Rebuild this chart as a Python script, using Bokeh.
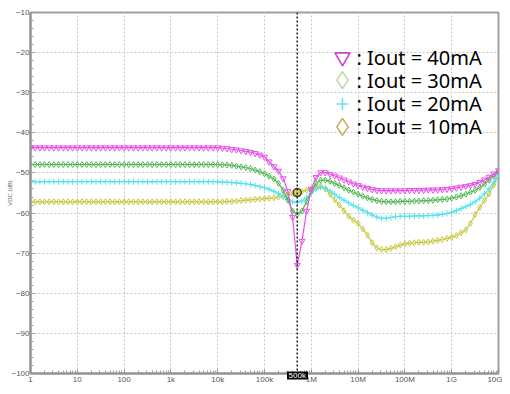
from bokeh.plotting import figure
from bokeh.models import Range1d, FixedTicker, Span, LogAxis
from bokeh.core.properties import value
from bokeh.embed import file_html
from bokeh.resources import INLINE

# ---- data ----
freq = [10 ** (i / 10) for i in range(101)]  # 1 Hz .. 10 GHz, 10 pts/decade

iout_40 = [
    -43.7, -43.7, -43.7, -43.7, -43.7, -43.7, -43.7, -43.7, -43.7, -43.7,
    -43.7, -43.7, -43.7, -43.7, -43.7, -43.7, -43.7, -43.7, -43.7, -43.7,
    -43.7, -43.7, -43.7, -43.7, -43.7, -43.7, -43.7, -43.7, -43.7, -43.7,
    -43.7, -43.7, -43.7, -43.7, -43.7, -43.7, -43.7, -43.7, -43.7, -43.7,
    -43.7, -43.8, -43.9, -44.1, -44.2, -44.4, -44.6, -44.8, -45.1, -45.5,
    -46.0, -47.2, -48.4, -49.5, -51.4, -54.6, -61.0, -73.0, -67.0, -59.5,
    -54.0, -51.1, -49.9, -49.9, -50.3, -50.7, -51.2, -51.7, -52.2, -52.7,
    -53.1, -53.5, -53.8, -54.1, -54.3, -54.4, -54.4, -54.4, -54.4, -54.4,
    -54.4, -54.3, -54.3, -54.3, -54.3, -54.2, -54.2, -54.2, -54.1, -54.0,
    -53.9, -53.7, -53.5, -53.3, -53.1, -52.8, -52.3, -51.7, -51.0, -50.2,
    -49.4]

iout_30 = [
    -47.9, -47.9, -47.9, -47.9, -47.9, -47.9, -47.9, -47.9, -47.9, -47.9,
    -47.9, -47.9, -47.9, -47.9, -47.9, -47.9, -47.9, -47.9, -47.9, -47.9,
    -47.9, -47.9, -47.9, -47.9, -47.9, -47.9, -47.9, -47.9, -47.9, -47.9,
    -47.9, -47.9, -47.9, -47.9, -47.9, -47.9, -47.9, -47.9, -47.9, -47.9,
    -47.9, -48.0, -48.0, -48.1, -48.3, -48.5, -48.7, -48.9, -49.3, -49.7,
    -50.2, -50.8, -51.5, -52.6, -54.3, -56.8, -59.5, -60.3, -59.5, -57.2,
    -54.5, -52.6, -51.8, -51.8, -52.1, -52.6, -53.1, -53.7, -54.3, -54.8,
    -55.3, -55.8, -56.2, -56.6, -56.9, -57.1, -57.2, -57.2, -57.2, -57.1,
    -57.1, -57.1, -57.0, -57.0, -56.9, -56.9, -56.8, -56.7, -56.6, -56.5,
    -56.3, -56.0, -55.7, -55.3, -54.8, -54.3, -53.6, -52.8, -51.8, -50.8,
    -49.7]

iout_20 = [
    -52.2, -52.2, -52.2, -52.2, -52.2, -52.2, -52.2, -52.2, -52.2, -52.2,
    -52.2, -52.2, -52.2, -52.2, -52.2, -52.2, -52.2, -52.2, -52.2, -52.2,
    -52.2, -52.2, -52.2, -52.2, -52.2, -52.2, -52.2, -52.2, -52.2, -52.2,
    -52.2, -52.2, -52.2, -52.2, -52.2, -52.2, -52.2, -52.2, -52.2, -52.2,
    -52.2, -52.3, -52.3, -52.4, -52.5, -52.6, -52.7, -52.9, -53.1, -53.4,
    -53.7, -54.1, -54.6, -55.2, -55.9, -56.6, -57.2, -57.4, -57.0, -56.1,
    -55.1, -54.1, -53.6, -53.7, -54.5, -55.3, -56.1, -56.8, -57.5, -58.1,
    -58.7, -59.3, -59.9, -60.5, -61.0, -61.3, -61.3, -61.1, -60.9, -60.8,
    -60.8, -60.8, -60.7, -60.7, -60.7, -60.6, -60.6, -60.5, -60.3, -60.1,
    -59.8, -59.4, -58.9, -58.4, -57.9, -57.2, -56.3, -55.2, -53.9, -52.3,
    -50.5]

iout_10 = [
    -57.2, -57.2, -57.2, -57.2, -57.2, -57.2, -57.2, -57.2, -57.2, -57.2,
    -57.2, -57.2, -57.2, -57.2, -57.2, -57.2, -57.2, -57.2, -57.2, -57.2,
    -57.2, -57.2, -57.2, -57.2, -57.2, -57.2, -57.2, -57.2, -57.2, -57.2,
    -57.2, -57.2, -57.2, -57.2, -57.2, -57.2, -57.2, -57.2, -57.2, -57.2,
    -57.2, -57.2, -57.1, -57.1, -57.0, -56.9, -56.8, -56.7, -56.6, -56.5,
    -56.4, -56.3, -56.2, -56.0, -55.8, -55.5, -55.2, -54.9, -54.6, -54.3,
    -54.0, -53.5, -53.2, -54.0, -55.3, -56.7, -58.0, -59.4, -60.8, -61.8,
    -62.6, -64.0, -65.5, -67.4, -68.7, -69.1, -69.1, -68.8, -68.4, -68.0,
    -67.7, -67.5, -67.4, -67.3, -67.3, -67.2, -67.0, -66.8, -66.6, -66.3,
    -66.0, -65.6, -64.9, -64.2, -62.6, -60.4, -58.6, -56.9, -55.2, -53.0,
    -50.4]

x_ticks = [1, 10, 100, 1000, 10**4, 10**5, 10**6, 10**7, 10**8, 10**9, 10**10]
x_tick_labels = ["1", "10", "100", "1k", "10k", "100k", "1M", "10M", "100M", "1G", "10G"]
y_ticks = [-100, -90, -80, -70, -60, -50, -40, -30, -20, -10]
legend_labels = [": Iout = 40mA", ": Iout = 30mA", ": Iout = 20mA", ": Iout = 10mA"]
cursor_freq = 500000
cursor_label = "500k"
cursor_index = 57

# ---- layout constants (pixels) ----
W, H = 502, 386
BL, BR, BT, BB = 30, 4, 12, 11
FW, FH = W - BL - BR, H - BT - BB


def px_to_x(px):
    return 10 ** ((px - BL) / (FW / 10))


def py_to_y(py):
    return -10 - (py - BT) / (FH / 90)


# ---- figure ----
p = figure(width=W, height=H, x_axis_type="log",
           x_range=Range1d(1, 1e10), y_range=Range1d(-100, -10),
           output_backend="svg", toolbar_location=None,
           min_border_left=BL, min_border_right=BR, min_border_top=BT, min_border_bottom=BB,
           background_fill_color="white", border_fill_color="white")
p.outline_line_color = "#a0a0a0"
p.outline_line_width = 2

# axes
p.xaxis.ticker = FixedTicker(ticks=x_ticks,
                             minor_ticks=[k * 10 ** d for d in range(10) for k in range(2, 10)])
p.xaxis.major_label_overrides = {t: l for t, l in zip(x_ticks, x_tick_labels)}
p.yaxis.ticker = FixedTicker(ticks=y_ticks, minor_ticks=list(range(-100, -9, 2)))
for ax in (p.xaxis, p.yaxis):
    ax.axis_line_color = "#909090"
    ax.axis_line_width = 2
    ax.major_tick_line_color = "#909090"
    ax.minor_tick_line_color = "#a0a0a0"
    ax.major_tick_in = 4
    ax.major_tick_out = 0
    ax.minor_tick_in = 3
    ax.minor_tick_out = 0
    ax.major_label_text_font_size = "8px"
    ax.major_label_text_color = "#555555"
    ax.major_label_text_font = "Liberation Sans"
    ax.major_label_standoff = 1
    ax.axis_label_standoff = 0

p.yaxis.axis_label = "VDC (dB)"
p.yaxis.axis_label_text_font_size = "6px"
p.yaxis.axis_label_text_font = "Liberation Sans"
p.yaxis.axis_label_text_font_style = "normal"
p.yaxis.axis_label_text_color = "#666666"
p.yaxis.axis_label_standoff = -5

p.xgrid.grid_line_color = "#c8c8c8"
p.xgrid.grid_line_dash = "2 2"
p.ygrid.grid_line_color = "#c8c8c8"
p.ygrid.grid_line_dash = "2 2"

# series
series = [
    (iout_40, "#e850e8", "inverted_triangle", 6),
    (iout_30, "#50b850", "diamond", 6),
    (iout_20, "#50e4ee", "cross", 6),
    (iout_10, "#c8c840", "diamond", 6),
]
for ys, col, mk, sz in series[::-1]:
    p.line(freq, ys, line_color=col, line_width=1.2)
    p.scatter(freq, ys, marker=mk, size=sz, line_color=col, fill_color=None, line_width=1)

# cursor
p.add_layout(Span(location=cursor_freq, dimension="height", line_color="black",
                  line_dash="2 2", line_width=1.3))
p.scatter([cursor_freq], [iout_10[cursor_index]], marker="circle", size=8,
          fill_color="#d8cc70", line_color="#404020", line_width=1.5)

# cursor value box on the x axis: an extra (zero-height) axis whose only tick is a black block
cur_ax = LogAxis(ticker=FixedTicker(ticks=[cursor_freq], minor_ticks=[]),
                 major_label_overrides={cursor_freq: cursor_label})
cur_ax.axis_line_color = None
cur_ax.major_tick_line_color = "black"
cur_ax.major_tick_line_width = 21
cur_ax.major_tick_in = 15
cur_ax.major_tick_out = -7
cur_ax.minor_tick_in = 0
cur_ax.minor_tick_out = 0
cur_ax.major_label_standoff = -16
cur_ax.major_label_text_color = "white"
cur_ax.major_label_text_font_size = "8px"
cur_ax.major_label_text_font = "Liberation Sans"
p.add_layout(cur_ax, "below")

# legend (manual)
leg_marks = [("inverted_triangle", "#d040d0", 15), ("diamond", "#bcd8a4", 17),
             ("cross", "#70e0ea", 12), ("diamond", "#ccaa60", 17)]
leg_py = [57, 80, 104, 127]
mx = px_to_x(342)
tx = px_to_x(356)
for (mk, col, sz), py, lab in zip(leg_marks, leg_py, legend_labels):
    yy = py_to_y(py)
    p.scatter([mx], [yy], marker=mk, size=sz, line_color=col, fill_color=None, line_width=1.6)
    p.text([tx], [yy], text=[lab], text_font=value("Noto Sans"), text_font_size="20px",
           text_color="black", text_baseline="middle", text_align="left")

open("out.html", "w").write(file_html(p, INLINE))
